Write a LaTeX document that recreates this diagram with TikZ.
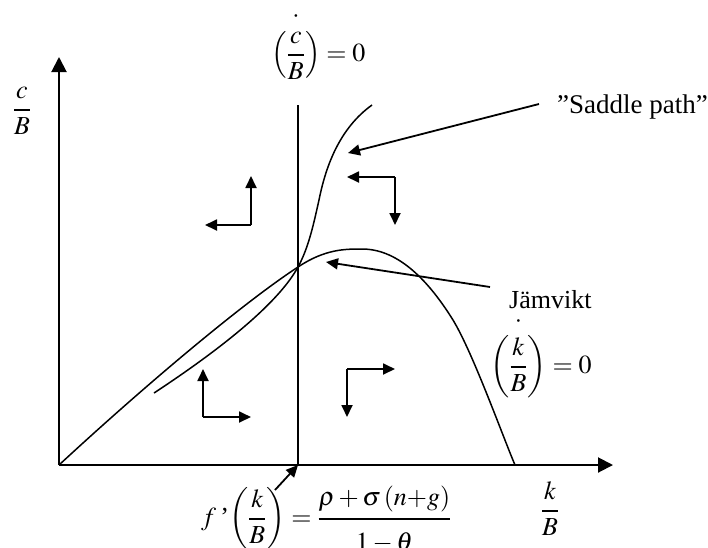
\documentclass[tikz,border=0pt]{standalone}
\usepackage{amsmath}
\usepackage{mathptmx}
\usepackage{fontspec}
\setmainfont{Liberation Serif}
\usetikzlibrary{arrows.meta}
\newcommand{\topdot}{\raisebox{3.5pt}{$\displaystyle\cdot$}}
\begin{document}
\begin{tikzpicture}[x=1pt,y=-1pt,
  axisline/.style={line width=2pt,-{Triangle[length=15pt,width=15pt]}},
  curveline/.style={line width=1.5pt},
  plainline/.style={line width=1.8pt},
  dirarrow/.style={line width=1.8pt,-{Triangle[length=12pt,width=11pt]}},
  lbl/.style={inner sep=0pt,font=\fontsize{26}{31}\selectfont}]
\useasboundingbox (0,0) rectangle (708,547);
% axes
\coordinate (O) at (59,465);
\coordinate (ytip) at (59,57);
\coordinate (xtip) at (613,465);
\draw[axisline] (O) -- (ytip);
\draw[axisline] (O) -- (xtip);
% vertical line c-dot = 0
\coordinate (vtop) at (298,105);
\coordinate (vbot) at (298,465);
\draw[plainline] (vbot) -- (vtop);
% equilibrium
\coordinate (E) at (298,267);
% k-dot = 0 curve
\draw[curveline] (O) .. controls (140,390) and (240,305) .. (E)
  .. controls (325,249) and (345,249) .. (362,249)
  .. controls (395,249) and (425,275) .. (453,320)
  .. controls (473,353) and (503,437) .. (515,465);
% saddle path
\draw[curveline] (154,393) .. controls (230,343) and (280,300) .. (E)
  .. controls (309,247) and (314,222) .. (319,200)
  .. controls (326,165) and (340,128) .. (372,105);
% labels
\node[lbl,anchor=base] (ylab) at (22,116.5) {$\dfrac{c}{B}$};
\node[lbl,anchor=base] (xlab) at (550,517.5) {$\dfrac{k}{B}$};
\node[lbl,anchor=base west] (cdot) at (271,61.5) {$\overset{\topdot}{\left(\dfrac{c}{B}\right)}=0$};
\node[lbl,anchor=base west] (kdot) at (490,373.5) {$\overset{\topdot}{\left(\dfrac{k}{B}\right)}=0$};
\node[lbl,anchor=west,font=\fontsize{27}{32}\selectfont] (saddle) at (557,107) {”Saddle path”};
\node[lbl,anchor=west] (jam) at (509,300) {Jämvikt};
\node[lbl,anchor=base west] (fcond) at (201,525.5) {$f\mbox{\,'}\!\left(\dfrac{k}{B}\right)=\dfrac{\rho+\sigma\left(n{+}g\right)\vrule depth 10pt width 0pt}{\vrule height 28pt width 0pt 1-\theta}$};
% pointer arrows
\coordinate (sptip) at (348,153);
\coordinate (jamtip) at (326,262);
\coordinate (ftail) at (275,490);
\draw[dirarrow] ([shift={(-18,-3)}]saddle.west) -- (sptip);
\draw[dirarrow] ([shift={(-19,-13)}]jam.west) -- (jamtip);
\draw[dirarrow] (ftail) -- (vbot);
% direction arrows
\coordinate (c1) at (251,225);
\coordinate (c1u) at (251,176);
\coordinate (c1l) at (205,225);
\draw[dirarrow] (c1) -- (c1u);
\draw[dirarrow] (c1) -- (c1l);
\coordinate (c2) at (395,177);
\coordinate (c2l) at (347,177);
\coordinate (c2d) at (395,225);
\draw[dirarrow] (c2) -- (c2l);
\draw[dirarrow] (c2) -- (c2d);
\coordinate (c3) at (203,417);
\coordinate (c3u) at (203,369);
\coordinate (c3r) at (251,417);
\draw[dirarrow] (c3) -- (c3u);
\draw[dirarrow] (c3) -- (c3r);
\coordinate (c4) at (347,369);
\coordinate (c4r) at (395,369);
\coordinate (c4d) at (347,417);
\draw[dirarrow] (c4) -- (c4r);
\draw[dirarrow] (c4) -- (c4d);
\end{tikzpicture}
\end{document}
